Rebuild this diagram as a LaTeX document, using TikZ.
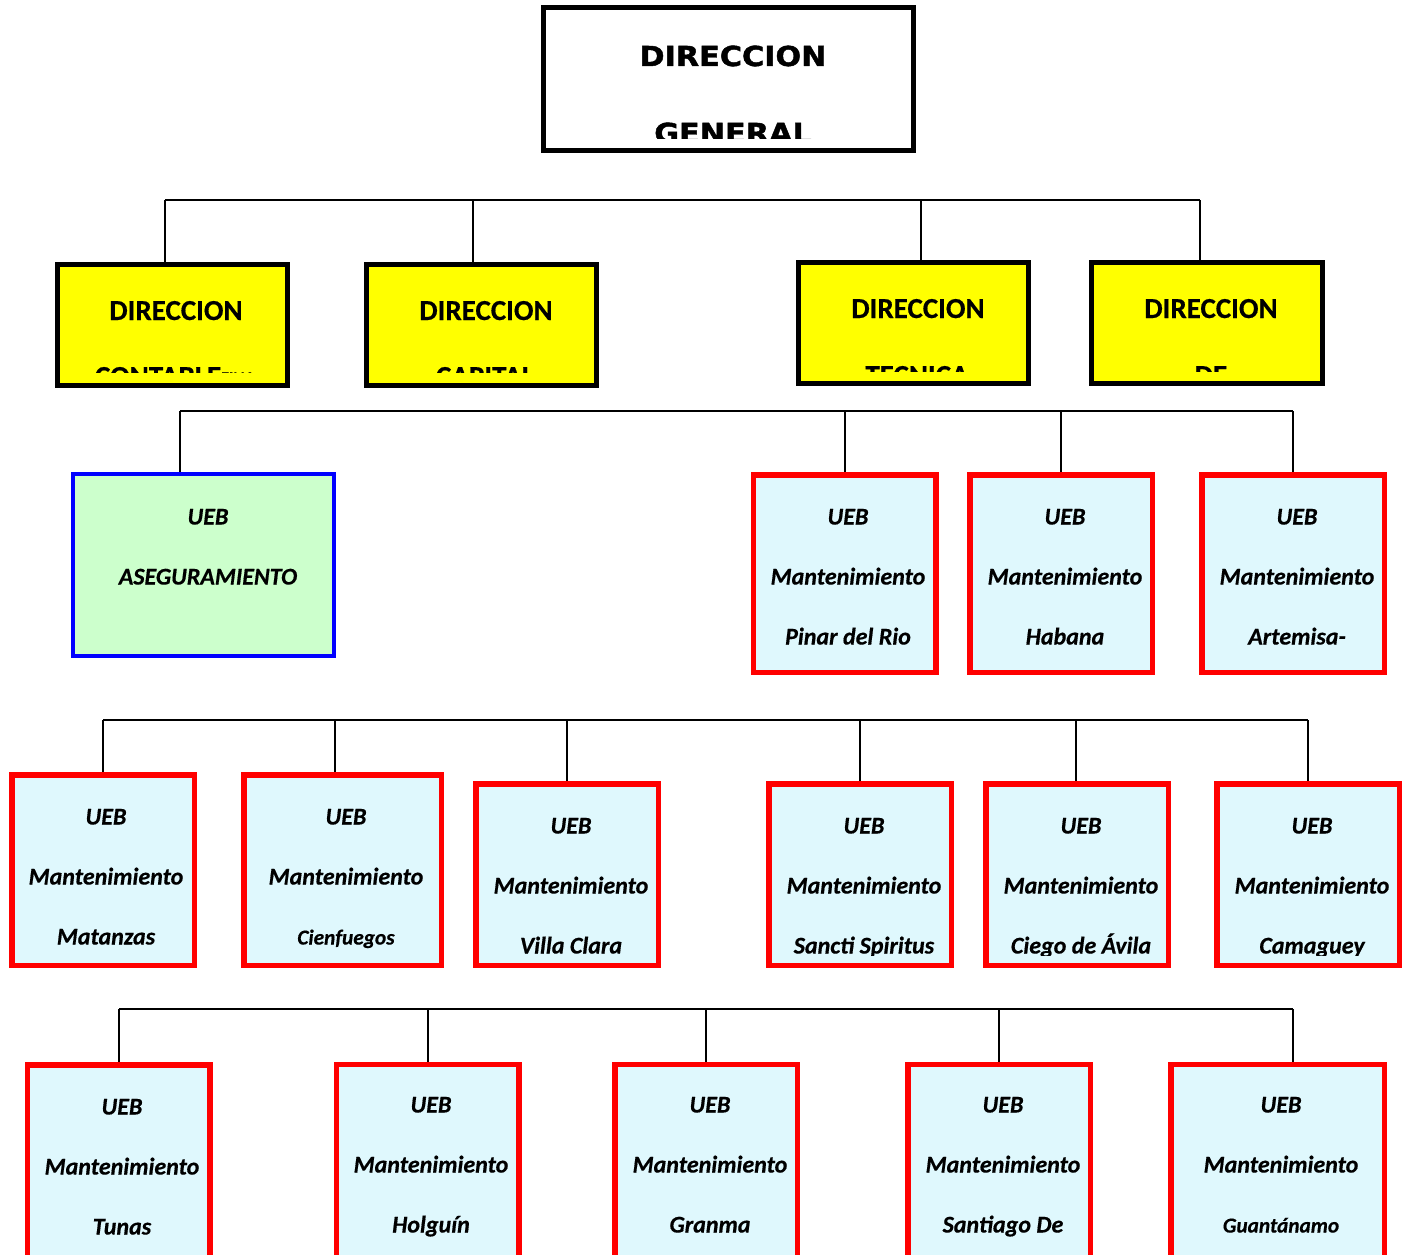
\documentclass[tikz,border=0pt]{standalone}
\usepackage{fontspec}
\setmainfont{Carlito}[BoldFeatures={FakeBold=0.5},BoldItalicFeatures={FakeBold=0.5}]
\newfontfamily\titlefont{DejaVu Sans}[FakeStretch=1.1,BoldFeatures={FakeBold=1.6}]
\definecolor{yfill}{RGB}{255,255,0}
\definecolor{gfill}{RGB}{204,255,204}
\definecolor{cfill}{RGB}{223,248,253}
\definecolor{redc}{RGB}{255,0,0}
\definecolor{bluec}{RGB}{0,0,255}
\newcommand\uebtext[5]{%
  \node[lbl] (#1-1) at (#2,#3) {UEB};
  \node[lbl] (#1-2) at (#2,#3+60) {Mantenimiento};
  \node[lbl,#5] (#1-3) at (#2,#3+120) {#4};}
\begin{document}
\begin{tikzpicture}[x=1pt,y=-1pt,
  gbox/.style={draw=black, line width=5pt, fill=white, inner sep=0pt, minimum width=370pt, minimum height=143pt},
  ybox/.style={draw=black, line width=5pt, fill=yfill, inner sep=0pt, minimum width=230pt, minimum height=121pt},
  bbox/.style={draw=bluec, line width=4pt, fill=gfill, inner sep=0pt},
  rbox/.style={draw=redc, line width=5.5pt, fill=cfill, inner sep=0pt, minimum width=182.5pt},
  lbl/.style={inner sep=0pt, text height=15pt, text depth=0pt, font=\fontsize{24}{28}\selectfont\bfseries\itshape},
  small/.style={font=\fontsize{21.3}{25}\selectfont\bfseries\itshape},
  ylbl/.style={inner sep=0pt, text height=19pt, text depth=0pt, font=\fontsize{29}{34}\selectfont\bfseries},
  tlbl/.style={inner sep=0pt, text height=19pt, text depth=0pt, font=\titlefont\fontsize{27.5}{32}\selectfont\bfseries},
  conn/.style={draw=black, line width=1.5pt}]
\useasboundingbox (0,0) rectangle (1408,1255);
\clip (0,0) rectangle (1408,1255);

% bar coordinates
\coordinate (a1) at (165,200);
\coordinate (a2) at (473,200);
\coordinate (a3) at (921,200);
\coordinate (a4) at (1200,200);
\coordinate (b1) at (180,411);
\coordinate (b2) at (845,411);
\coordinate (b3) at (1061,411);
\coordinate (b4) at (1293,411);
\coordinate (c1) at (103,720);
\coordinate (c2) at (335,720);
\coordinate (c3) at (567,720);
\coordinate (c4) at (860,720);
\coordinate (c5) at (1076,720);
\coordinate (c6) at (1308,720);
\coordinate (d1) at (119,1009);
\coordinate (d2) at (428,1009);
\coordinate (d3) at (706,1009);
\coordinate (d4) at (999,1009);
\coordinate (d5) at (1293,1009);

% boxes
\node[gbox] (gen) at (728.5,79) {};
\node[ybox] (y1) at (172.5,325) {};
\node[ybox] (y2) at (481.5,325) {};
\node[ybox] (y3) at (913.5,323) {};
\node[ybox, minimum width=231pt] (y4) at (1207,323) {};
\node[bbox, minimum width=261pt, minimum height=182pt] (ase) at (203.5,565) {};
\node[rbox, minimum height=197.5pt] (pr) at (844.5,573.5) {};
\node[rbox, minimum height=197.5pt] (hab) at (1061,573.5) {};
\node[rbox, minimum height=197.5pt] (art) at (1293,573.5) {};
\node[rbox, minimum height=190.5pt] (mat) at (103,870) {};
\node[rbox, minimum height=190.5pt, minimum width=197.5pt] (cie) at (342.5,870) {};
\node[rbox, minimum height=181.5pt] (vc) at (567,874.5) {};
\node[rbox, minimum height=181.5pt] (ss) at (860,874.5) {};
\node[rbox, minimum height=181.5pt] (ca) at (1077,874.5) {};
\node[rbox, minimum height=181.5pt] (cam) at (1308,874.5) {};
\node[rbox, minimum height=232.5pt] (tun) at (118.5,1181) {};
\node[rbox, minimum height=232.5pt] (hol) at (427.5,1180.5) {};
\node[rbox, minimum height=232.5pt] (gra) at (706,1180.5) {};
\node[rbox, minimum height=232.5pt] (stg) at (999,1180.5) {};
\node[rbox, minimum height=232.5pt, minimum width=213.5pt] (gtm) at (1277.5,1180.5) {};

% connectors
\draw[conn] (a1) -- (a4);
\draw[conn] (a1) -- (a1 |- y1.north);
\draw[conn] (a2) -- (a2 |- y2.north);
\draw[conn] (a3) -- (a3 |- y3.north);
\draw[conn] (a4) -- (a4 |- y4.north);
\draw[conn] (b1) -- (b4);
\draw[conn] (b1) -- (b1 |- ase.north);
\draw[conn] (b2) -- (b2 |- pr.north);
\draw[conn] (b3) -- (b3 |- hab.north);
\draw[conn] (b4) -- (b4 |- art.north);
\draw[conn] (c1) -- (c6);
\draw[conn] (c1) -- (c1 |- mat.north);
\draw[conn] (c2) -- (c2 |- cie.north);
\draw[conn] (c3) -- (c3 |- vc.north);
\draw[conn] (c4) -- (c4 |- ss.north);
\draw[conn] (c5) -- (c5 |- ca.north);
\draw[conn] (c6) -- (c6 |- cam.north);
\draw[conn] (d1) -- (d5);
\draw[conn] (d1) -- (d1 |- tun.north);
\draw[conn] (d2) -- (d2 |- hol.north);
\draw[conn] (d3) -- (d3 |- gra.north);
\draw[conn] (d4) -- (d4 |- stg.north);
\draw[conn] (d5) -- (d5 |- gtm.north);

% top box text
\node[tlbl] (gen-1) at (733,56.5) {DIRECCION};
\begin{scope}
  \clip (548,10) rectangle (909,138);
  \node[tlbl] (gen-2) at (733,133.5) {GENERAL};
\end{scope}

% yellow box texts
\node[ylbl] (y1-1) at (176,310.5) {DIRECCION};
\node[ylbl] (y2-1) at (486,310.5) {DIRECCION};
\node[ylbl] (y3-1) at (918,308.5) {DIRECCION};
\node[ylbl] (y4-1) at (1211,308.5) {DIRECCION};
\begin{scope}
  \clip (60,300) rectangle (1320,372);
  \node[ylbl] (y1-2) at (175,376.5) {CONTABLE\raisebox{2.5pt}{\fontsize{17}{20}\selectfont FINA}};
  \node[ylbl] (y2-2) at (485,376.5) {CAPITAL};
\end{scope}
\begin{scope}
  \clip (60,300) rectangle (1320,371);
  \node[ylbl] (y3-2) at (917,375.5) {TECNICA};
  \node[ylbl] (y4-2) at (1211,375.5) {DE};
\end{scope}

% blue box text
\node[lbl] (ase-1) at (208,517) {UEB};
\node[lbl] (ase-2) at (208,577) {ASEGURAMIENTO};

% red box texts
\uebtext{pr}{848}{517}{Pinar del Rio}{}
\uebtext{hab}{1065}{517}{Habana}{}
\uebtext{art}{1297}{517}{Artemisa-}{}
\uebtext{mat}{106}{817}{Matanzas}{}
\uebtext{cie}{346}{817}{Cienfuegos}{small}
\begin{scope}
  \clip (400,790) rectangle (1400,955);
  \uebtext{vc}{571}{826}{Villa Clara}{}
  \uebtext{ss}{864}{826}{Sancti Spiritus}{}
  \uebtext{ca}{1081}{826}{Ciego de Ávila}{}
  \uebtext{cam}{1312}{826}{Camaguey}{}
\end{scope}
\uebtext{tun}{122}{1107}{Tunas}{}
\uebtext{hol}{431}{1105}{Holguín}{}
\uebtext{gra}{710}{1105}{Granma}{}
\uebtext{stg}{1003}{1105}{Santiago De}{}
\uebtext{gtm}{1281}{1105}{Guantánamo}{small}
\end{tikzpicture}
\end{document}
